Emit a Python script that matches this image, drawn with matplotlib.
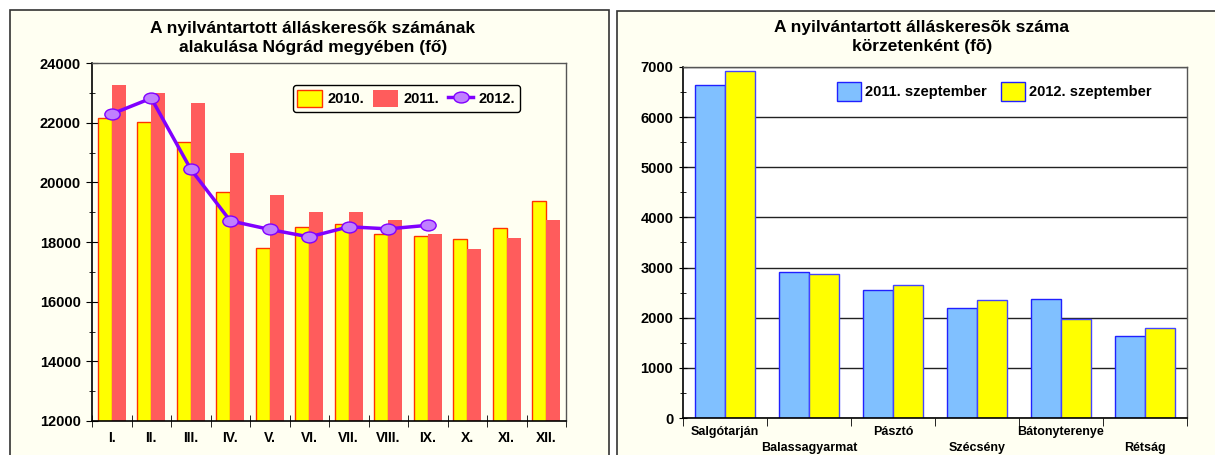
import numpy as np
import matplotlib.pyplot as plt
from matplotlib.patches import Rectangle, Patch
from matplotlib.lines import Line2D
from matplotlib.path import Path
from matplotlib.transforms import Affine2D
from matplotlib.ticker import MultipleLocator, FixedLocator

plt.rcParams['font.family'] = ['Liberation Sans', 'DejaVu Sans']
plt.rcParams['font.weight'] = 'bold'

# left chart: monthly job seekers, Nógrád county
months = ['I.', 'II.', 'III.', 'IV.', 'V.', 'VI.', 'VII.', 'VIII.', 'IX.', 'X.', 'XI.', 'XII.']
y2010 = [22150, 22030, 21340, 19670, 17790, 18500, 18600, 18270, 18200, 18090, 18470, 19380]
y2011 = [23270, 23000, 22670, 21000, 19590, 19020, 19020, 18750, 18280, 17750, 18120, 18750]
y2012 = [22290, 22820, 20440, 18710, 18420, 18170, 18510, 18440, 18560]

# right chart: job seekers by district
districts = ['Salgótarján', 'Balassagyarmat', 'Pásztó', 'Szécsény', 'Bátonyterenye', 'Rétság']
sep2011 = [6650, 2910, 2560, 2200, 2370, 1635]
sep2012 = [6930, 2880, 2645, 2345, 1980, 1795]

cream = '#FFFFF2'
W, H = 1215, 455

fig = plt.figure(figsize=(W / 100, H / 100), dpi=100)
fig.patch.set_facecolor('white')

# panel boxes (behind the axes)
fig.patches.append(Rectangle((10 / W, -0.1), 599 / W, 1.1 - 10 / H, transform=fig.transFigure,
                             facecolor=cream, edgecolor='#333333', lw=1.2, zorder=-5))
fig.patches.append(Rectangle((617 / W, -0.1), 0.6, 1.1 - 11 / H, transform=fig.transFigure,
                             facecolor=cream, edgecolor='#333333', lw=1.2, zorder=-5))

# ---- left chart ----
ax1 = fig.add_axes([92 / W, 1 - 421 / H, 474 / W, 358 / H])
ax1.set_facecolor(cream)
x = np.arange(len(months))
w = 0.35
ax1.bar(x - w / 2, y2010, w, color='#FFFF00', edgecolor='#FF3300', lw=1, zorder=2)
ax1.bar(x + w / 2, y2011, w, color='#FF5C5C', lw=0, zorder=2)

ell = Path.unit_circle().transformed(Affine2D().scale(1.4, 1.0))
ax1.plot(x[:len(y2012)], y2012, color='#8000FF', lw=2.5, marker=ell, ms=11,
         mfc='#C080FF', mec='#8000FF', mew=1, zorder=3)

ax1.set_xlim(-0.5, len(months) - 0.5)
ax1.set_ylim(12000, 24000)
ax1.yaxis.set_major_locator(MultipleLocator(2000))
ax1.yaxis.set_minor_locator(MultipleLocator(1000))
ax1.tick_params(axis='y', which='major', direction='inout', length=8, labelsize=10.5, pad=4)
ax1.tick_params(axis='y', which='minor', direction='inout', length=5)
ax1.set_xticks(x)
ax1.set_xticklabels(months)
ax1.xaxis.set_minor_locator(FixedLocator(np.arange(-0.5, len(months), 1)))
ax1.tick_params(axis='x', which='major', length=0, labelsize=10, pad=7)
ax1.tick_params(axis='x', which='minor', direction='inout', length=8)
for s in ['top', 'right']:
    ax1.spines[s].set_color('#555555')
    ax1.spines[s].set_linewidth(1)
for s in ['left', 'bottom']:
    ax1.spines[s].set_color('black')
    ax1.spines[s].set_linewidth(1.2)

h1 = [Patch(facecolor='#FFFF00', edgecolor='#FF3300', lw=1),
      Patch(facecolor='#FF5C5C', edgecolor='none'),
      Line2D([], [], color='#8000FF', lw=2.5, marker=ell, ms=11, mfc='#C080FF', mec='#8000FF')]
leg1 = ax1.legend(h1, ['2010.', '2011.', '2012.'], ncol=3, loc='upper right',
                  bbox_to_anchor=(0.918, 0.958), fontsize=10.5, frameon=True, fancybox=True,
                  edgecolor='black', facecolor=cream, framealpha=1, handlelength=1.7,
                  handleheight=1.5, handletextpad=0.4, columnspacing=0.6, borderpad=0.3)
leg1.get_frame().set_linewidth(1)

fig.text(313 / W, 1 - 38 / H, 'A nyilvántartott álláskeresők számának\nalakulása Nógrád megyében (fő)',
         ha='center', va='center', fontsize=12.5, fontweight='bold', linespacing=1.3)

# ---- right chart ----
ax2 = fig.add_axes([683 / W, 1 - 418 / H, 504 / W, 351 / H])
ax2.set_facecolor('white')
x2 = np.arange(len(districts))
w2 = 0.36
ax2.bar(x2 - w2 / 2, sep2011, w2, color='#80C0FF', edgecolor='#2020FF', lw=1, zorder=2)
ax2.bar(x2 + w2 / 2, sep2012, w2, color='#FFFF00', edgecolor='#4444FF', lw=1, zorder=2)
ax2.set_xlim(-0.5, len(districts) - 0.5)
ax2.set_ylim(0, 7000)
ax2.yaxis.set_major_locator(MultipleLocator(1000))
ax2.yaxis.set_minor_locator(MultipleLocator(500))
ax2.grid(axis='y', which='major', color='#222222', lw=1, zorder=1)
ax2.set_axisbelow(True)
ax2.tick_params(axis='y', which='major', direction='inout', length=6, labelsize=10.5, pad=4)
ax2.tick_params(axis='y', which='minor', direction='inout', length=4)
ax2.set_xticks(x2)
ax2.set_xticklabels([d if i % 2 == 0 else '\n' + d for i, d in enumerate(districts)],
                    linespacing=1.45)
ax2.xaxis.set_minor_locator(FixedLocator(np.arange(-0.5, len(districts), 1)))
ax2.tick_params(axis='x', which='major', length=0, labelsize=9, pad=6)
ax2.tick_params(axis='x', which='minor', direction='out', length=6)
for s in ['top', 'right']:
    ax2.spines[s].set_color('#555555')
    ax2.spines[s].set_linewidth(1)
for s in ['left', 'bottom']:
    ax2.spines[s].set_color('black')
    ax2.spines[s].set_linewidth(1.2)

h2 = [Patch(facecolor='#80C0FF', edgecolor='#2020FF', lw=1),
      Patch(facecolor='#FFFF00', edgecolor='#2020FF', lw=1)]
ax2.legend(h2, ['2011. szeptember', '2012. szeptember'], ncol=2, loc='center left',
           bbox_to_anchor=(0.28, 0.93), fontsize=10.5, frameon=False, handlelength=1.6,
           handleheight=1.6, handletextpad=0.3, columnspacing=1.0)

fig.text(922 / W, 1 - 37 / H, 'A nyilvántartott álláskeresõk száma\nkörzetenként (fõ)',
         ha='center', va='center', fontsize=12.5, fontweight='bold', linespacing=1.3)

fig.savefig('out.png', dpi=100)
